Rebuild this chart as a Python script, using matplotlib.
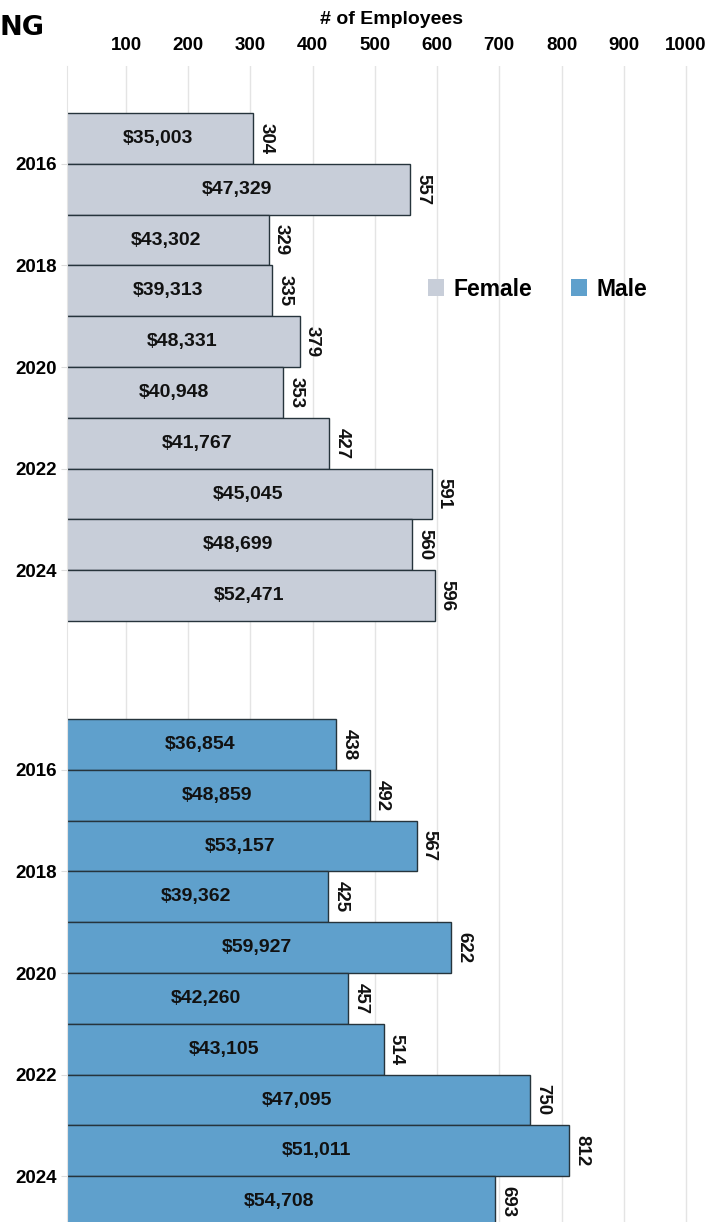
import matplotlib
matplotlib.use("Agg")
import matplotlib.pyplot as plt
from matplotlib.patches import Patch

plt.rcParams['font.family'] = ['Liberation Sans', 'DejaVu Sans']

years = list(range(2015, 2025))
female_emp = [304, 557, 329, 335, 379, 353, 427, 591, 560, 596]
female_sal = [35003, 47329, 43302, 39313, 48331, 40948, 41767, 45045, 48699, 52471]
male_emp = [438, 492, 567, 425, 622, 457, 514, 750, 812, 693]
male_sal = [36854, 48859, 53157, 39362, 59927, 42260, 43105, 47095, 51011, 54708]

female_color = '#c8ced9'
male_color = '#5fa0cc'
edge_color = '#26343c'
male_offset = 11.93

W, H = 722, 1222
fig = plt.figure(figsize=(W / 100, H / 100), dpi=100)
ax = fig.add_axes([67 / W, 0, 1 - 67 / W, 1 - 66 / H])

groups = [(0, female_emp, female_sal, female_color),
          (male_offset, male_emp, male_sal, male_color)]
for off, emp, sal, col in groups:
    tops = [off + i for i in range(len(years))]
    centers = [t + 0.5 for t in tops]
    ax.barh(centers, emp, height=1.0, color=col, edgecolor=edge_color,
            linewidth=1.0, zorder=2)
    for v, s, t, c in zip(emp, sal, tops, centers):
        ax.text(v / 2, c, f"${s:,}", ha='center', va='center',
                fontsize=14, fontweight='bold', color='#111111', zorder=3)
        ax.annotate(str(v), xy=(v, t), xytext=(3, -7), textcoords='offset points',
                    rotation=-90, ha='left', va='top', fontsize=13.5,
                    fontweight='bold', color='#111111', zorder=3)

# y ticks: every other year, at the top edge of that year's bar
ytick_pos, ytick_lab = [], []
for off in (0, male_offset):
    for i, y in enumerate(years):
        if y % 2 == 0:
            ytick_pos.append(off + i)
            ytick_lab.append(str(y))
ax.set_yticks(ytick_pos)
ax.set_yticklabels(ytick_lab, fontsize=13.5, fontweight='bold')
ax.tick_params(axis='y', length=4, color='#dddddd', pad=3)

ax.set_ylim((H - 113) / 50.8, -47 / 50.8)
ax.set_xlim(5, 1058)

xt = list(range(100, 1001, 100))
ax.set_xticks(xt)
ax.xaxis.tick_top()
ax.set_xticklabels([str(v) for v in xt], fontsize=13.5, fontweight='bold')
ax.tick_params(axis='x', length=0, pad=9)
ax.grid(axis='x', color='#e4e4e4', linewidth=1, zorder=0)
ax.set_axisbelow(True)

for side in ('top', 'right', 'bottom'):
    ax.spines[side].set_visible(False)
ax.spines['left'].set_color('#e4e4e4')

fig.text(392 / W, 1 - 20 / H, '# of Employees', ha='center', va='center',
         fontsize=14, fontweight='bold')
fig.text(0, 1 - 28 / H, 'NG', ha='left', va='center',
         fontsize=19.5, fontweight='bold', family=['DejaVu Sans'])

handles = [Patch(facecolor=female_color, edgecolor='none', label='Female'),
           Patch(facecolor=male_color, edgecolor='none', label='Male')]
leg = fig.legend(handles=handles, ncol=2, frameon=False, loc='center left',
                 bbox_to_anchor=(428 / W, 1 - 289 / H), borderpad=0,
                 borderaxespad=0, handlelength=0.7, handleheight=0.7,
                 handletextpad=0.4, columnspacing=1.7,
                 prop={'size': 16.5, 'weight': 'bold'})

fig.savefig('out.png', dpi=100)
